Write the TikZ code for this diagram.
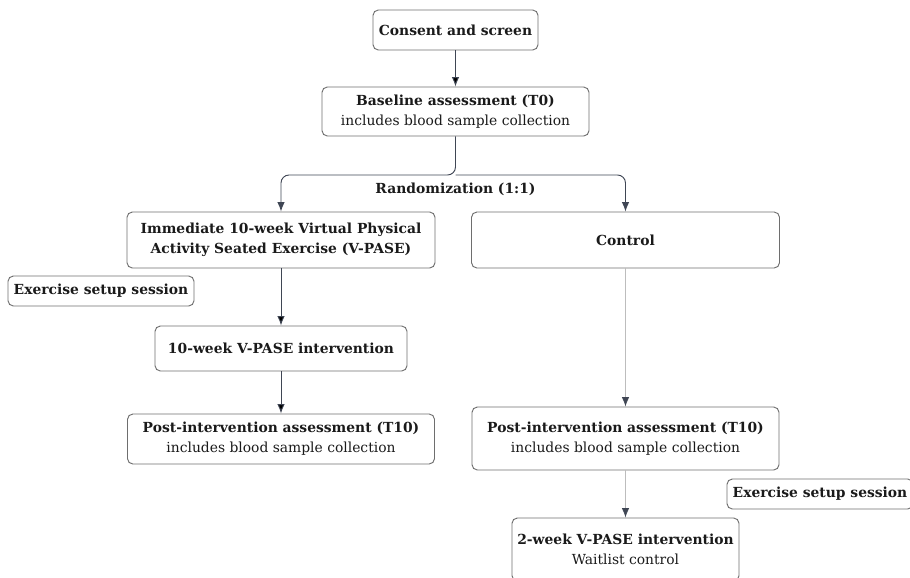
\documentclass[tikz,border=0pt]{standalone}
\usepackage{fontspec}
\setmainfont{DejaVu Serif}
\usetikzlibrary{arrows.meta}

\definecolor{arrowgray}{HTML}{3F4654}
\definecolor{boxgray}{HTML}{6E6E6E}
\definecolor{paleline}{HTML}{BDBDBD}
\definecolor{inkblack}{HTML}{1A1A1A}

\begin{document}
\begin{tikzpicture}[x=0.75pt,y=-0.75pt,>={Latex[length=7pt,width=5.5pt]},
  font=\fontsize{10.4}{15}\selectfont,text=inkblack,
  box/.style={draw=boxgray,rounded corners=4pt,align=center,line width=0.7pt,inner sep=2pt},
  link/.style={->,draw=arrowgray,line width=0.7pt},
  palelink/.style={-{Latex[length=7pt,width=5.5pt,color=arrowgray]},draw=paleline,line width=0.6pt}]
  \useasboundingbox (0,0) rectangle (910,578);
  \clip (0,0) rectangle (910,578);

  \node[box,minimum width=123.75pt,minimum height=30pt] (consent) at (455.5,30)
    {\textbf{Consent and screen}};
  \node[box,minimum width=200.25pt,minimum height=36.75pt] (base) at (455.5,111.5)
    {\textbf{Baseline assessment (T0)}\\includes blood sample collection};
  \coordinate (split) at (455.5,175);
  \node (rand) at (455.5,189) {\textbf{Randomization (1:1)}};

  \node[box,minimum width=231pt,minimum height=42pt] (imm) at (281,240)
    {\textbf{Immediate 10-week Virtual Physical}\\\textbf{Activity Seated Exercise (V-PASE)}};
  \node[box,minimum width=231pt,minimum height=42pt] (control) at (625.5,240)
    {\textbf{Control}};
  \node[box,minimum width=139.5pt,minimum height=22.5pt] (setupA) at (101,291)
    {\textbf{Exercise setup session}};
  \node[box,minimum width=189pt,minimum height=33.75pt] (tenweek) at (281,348.5)
    {\textbf{10-week V-PASE intervention}};
  \node[box,minimum width=230.25pt,minimum height=37.5pt] (postA) at (281,439)
    {\textbf{Post-intervention assessment (T10)}\\includes blood sample collection};
  \node[box,minimum width=230.25pt,minimum height=47.25pt] (postB) at (625.5,438.5)
    {\textbf{Post-intervention assessment (T10)}\\includes blood sample collection};
  \node[box,minimum width=139.5pt,minimum height=22.5pt] (setupB) at (820,494)
    {\textbf{Exercise setup session}};
  \node[box,minimum width=170.25pt,minimum height=47.25pt] (twoweek) at (625.5,549.5)
    {\textbf{2-week V-PASE intervention}\\Waitlist control};

  % randomisation split
  \draw[link,rounded corners=6pt] (base.south) -- (split) -| (imm.north);
  \draw[link,rounded corners=6pt] (split) -| (control.north);

  \path[link]
  (consent) edge (base)
  (imm) edge (tenweek)
  (tenweek) edge (postA);

  \path[palelink]
  (control) edge (postB)
  (postB) edge (twoweek);
\end{tikzpicture}
\end{document}
